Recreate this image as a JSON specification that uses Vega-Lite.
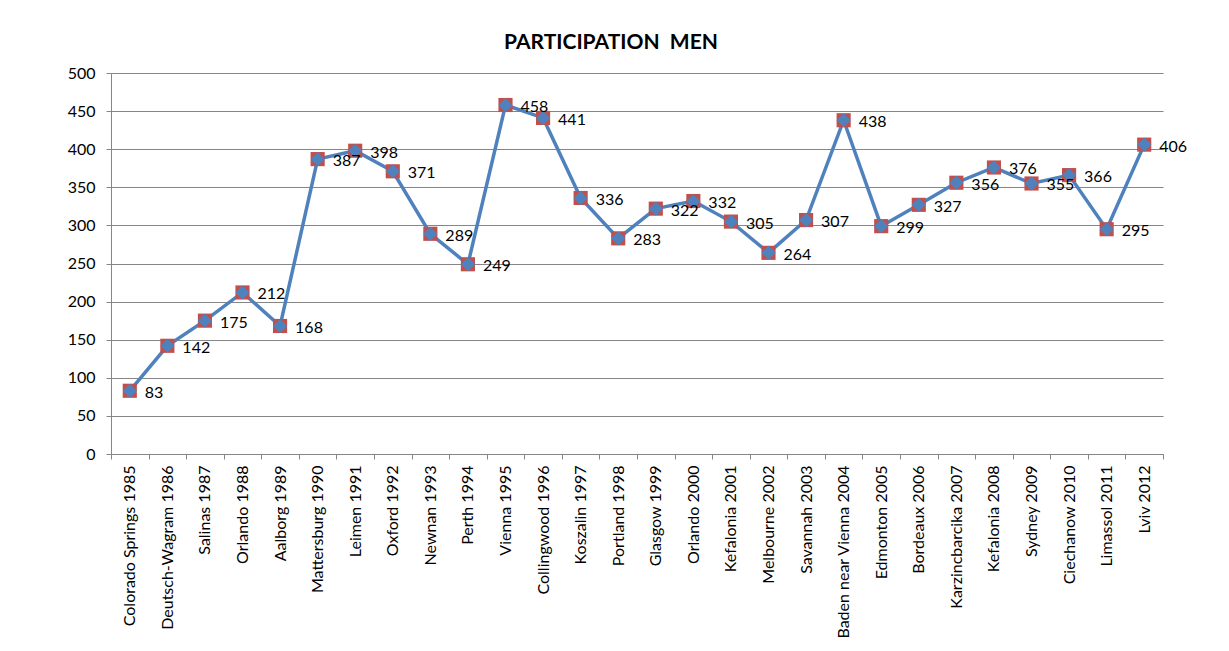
{
  "$schema": "https://vega.github.io/schema/vega-lite/v6.json",
  "autosize": {"type": "none"},
  "width": 1052,
  "height": 381,
  "padding": {"left": 111, "top": 73, "right": 66, "bottom": 197},
  "background": "white",
  "title": {"text": "PARTICIPATION \u00a0MEN", "font": "Lato", "fontSize": 21, "fontWeight": "bold", "color": "#000000", "offset": 12, "anchor": "middle", "dx": -26},
  "data": {"values": [
    {"place": "Colorado Springs 1985", "n": 83},
    {"place": "Deutsch-Wagram 1986", "n": 142},
    {"place": "Salinas 1987", "n": 175},
    {"place": "Orlando 1988", "n": 212},
    {"place": "Aalborg 1989", "n": 168},
    {"place": "Mattersburg 1990", "n": 387},
    {"place": "Leimen 1991", "n": 398},
    {"place": "Oxford 1992", "n": 371},
    {"place": "Newnan 1993", "n": 289},
    {"place": "Perth 1994", "n": 249},
    {"place": "Vienna 1995", "n": 458},
    {"place": "Collingwood 1996", "n": 441},
    {"place": "Koszalin 1997", "n": 336},
    {"place": "Portland 1998", "n": 283},
    {"place": "Glasgow 1999", "n": 322},
    {"place": "Orlando 2000", "n": 332},
    {"place": "Kefalonia 2001", "n": 305},
    {"place": "Melbourne 2002", "n": 264},
    {"place": "Savannah 2003", "n": 307},
    {"place": "Baden near Vienna 2004", "n": 438},
    {"place": "Edmonton 2005", "n": 299},
    {"place": "Bordeaux 2006", "n": 327},
    {"place": "Karzincbarcika 2007", "n": 356},
    {"place": "Kefalonia 2008", "n": 376},
    {"place": "Sydney 2009", "n": 355},
    {"place": "Ciechanow 2010", "n": 366},
    {"place": "Limassol 2011", "n": 295},
    {"place": "Lviv 2012", "n": 406}
  ]},
  "encoding": {
    "x": {"field": "place", "type": "nominal", "sort": null, "scale": {"paddingInner": 0, "paddingOuter": 0},
      "axis": {"title": null, "labelAngle": -90, "labelFont": "Lato", "labelFontSize": 16, "labelColor": "#000000", "labelPadding": 6, "ticks": true, "tickBand": "extent", "tickColor": "#868686", "tickSize": 5, "domainColor": "#868686", "grid": false}},
    "y": {"field": "n", "type": "quantitative", "scale": {"domain": [0, 500], "nice": false},
      "axis": {"title": null, "values": [0,50,100,150,200,250,300,350,400,450,500], "labelFont": "Lato", "labelFontSize": 16, "labelColor": "#000000", "labelPadding": 11, "tickColor": "#868686", "tickSize": 5, "domainColor": "#868686", "grid": true, "gridColor": "#868686", "gridWidth": 1}}
  },
  "layer": [
    {"mark": {"type": "line", "color": "#4F81BD", "strokeWidth": 3.5}},
    {"mark": {"type": "point", "shape": "square", "filled": true, "color": "#C0504D", "size": 200, "opacity": 1}},
    {"mark": {"type": "point", "shape": "diamond", "filled": true, "color": "#4F81BD", "size": 200, "opacity": 1}},
    {"mark": {"type": "text", "align": "left", "baseline": "middle", "dx": 15, "dy": 2, "font": "Lato", "fontSize": 16, "color": "#000000"},
     "encoding": {"text": {"field": "n", "type": "quantitative"}}}
  ],
  "config": {"view": {"stroke": null}}
}
